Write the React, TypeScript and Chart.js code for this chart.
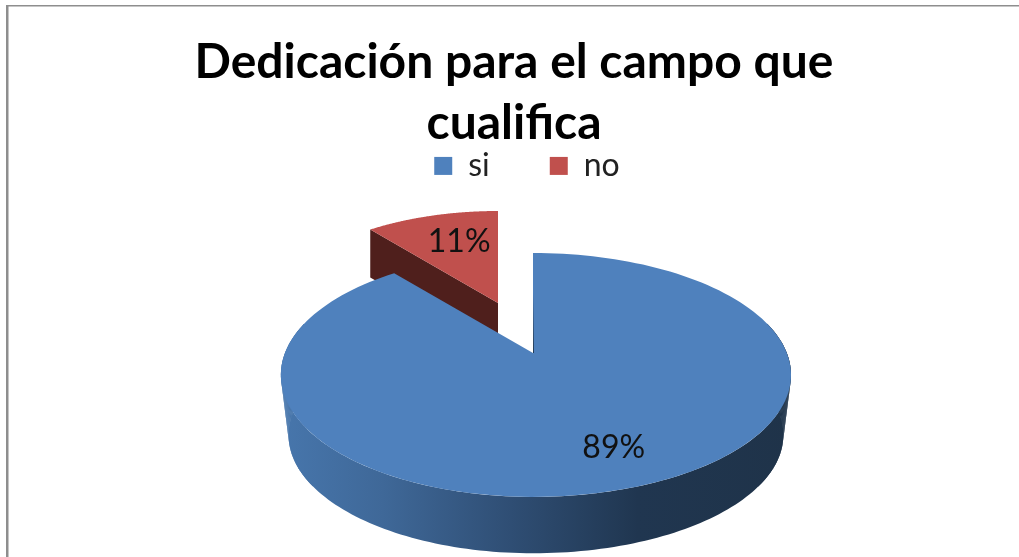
import React, { useEffect, useRef } from "react";
import { Chart, registerables } from "chart.js";

Chart.register(...registerables);

const categories = ["si", "no"];
const percentages = [89, 11];
const faceColors = ["#4f81bd", "#c0504d"];
const titleLines = ["Dedicación para el campo que", "cualifica"];

const FONT = "Lato, Carlito, Calibri, sans-serif";

// Perspective projection of the unit disc onto the page
const tip = { x: 533, y: 353 };
const persp = -0.18;
const radY = 118;
const radXLeft = 248;
const radXRight = 253.8;
// Floor of the pie, relative to the ellipse of its top face
const ellipse = { x: 536, y: 375 };
const floor = { scale: 0.97, drop: 60 };
// The exploded slice
const exploded = { x: 498, y: 303, scale: 0.92, depth: 48 };
const labelSpots = [
  { f: 0.74, dx: 8, dy: 1 },
  { f: 0.58, dx: 2, dy: -7 },
];
const legendShift = 13;

type P = { x: number; y: number };

function project(angle: number, f = 1): P {
  const u = Math.cos(angle) * f;
  const v = Math.sin(angle) * f;
  const d = 1 + persp * v;
  return {
    x: tip.x + ((u < 0 ? radXLeft : radXRight) * u) / d,
    y: tip.y + (radY * v) / d,
  };
}
const toFloor = (p: P): P => ({
  x: ellipse.x + floor.scale * (p.x - ellipse.x),
  y: ellipse.y + floor.drop + floor.scale * (p.y - ellipse.y),
});
const toExploded = (p: P): P => ({
  x: exploded.x + exploded.scale * (p.x - tip.x),
  y: exploded.y + exploded.scale * (p.y - tip.y),
});

function arcPoints(a0: number, a1: number, map: (p: P) => P = (p) => p): P[] {
  const n = 160;
  const pts: P[] = [];
  for (let i = 0; i <= n; i++) pts.push(map(project(a0 + ((a1 - a0) * i) / n)));
  return pts;
}
function fillPoly(ctx: CanvasRenderingContext2D, pts: P[], fill: string | CanvasGradient) {
  ctx.beginPath();
  pts.forEach((p, i) => (i ? ctx.lineTo(p.x, p.y) : ctx.moveTo(p.x, p.y)));
  ctx.closePath();
  ctx.fillStyle = fill;
  ctx.fill();
}

const pie3d = {
  id: "pie3d",
  afterLayout(chart: any) {
    // the legend centres itself between left and right
    chart.legend.left += legendShift * 2;
  },
  beforeDraw(chart: any) {
    const { ctx, width } = chart;
    ctx.save();
    ctx.fillStyle = "#ffffff";
    ctx.fillRect(0, 0, width, chart.height);
    ctx.fillStyle = "#8e8e8e";
    ctx.fillRect(6, 5, width - 6, 1.5);
    ctx.fillRect(6, 5, 2.5, chart.height - 5);
    ctx.restore();
  },
  beforeDatasetsDraw(chart: any) {
    const { ctx } = chart;
    const arcs = chart.getDatasetMeta(0).data;
    const [si, no] = arcs;
    ctx.save();

    // exploded slice: cut face then top
    const rimStart = toExploded(project(no.startAngle));
    const apex = { x: exploded.x, y: exploded.y };
    const down = (p: P): P => ({ x: p.x, y: p.y + exploded.depth });
    fillPoly(ctx, [rimStart, apex, down(apex), down(rimStart)], "#4f1f1c");
    fillPoly(ctx, [apex, ...arcPoints(no.startAngle, no.endAngle, toExploded)], faceColors[1]);

    // main slice: wall then top
    const grad = ctx.createLinearGradient(281, 0, 791, 0);
    grad.addColorStop(0, "#4776ac");
    grad.addColorStop(0.2, "#3f6898");
    grad.addColorStop(0.45, "#2f4e74");
    grad.addColorStop(0.7, "#203650");
    grad.addColorStop(1, "#1f3349");
    const rad = Math.PI / 180;
    const w0 = -15 * rad;
    const w1 = 195 * rad;
    fillPoly(ctx, [...arcPoints(w0, w1), ...arcPoints(w0, w1, toFloor).reverse()], grad);
    // straight flanks joining the two rims at the silhouette
    for (const [a0, a1] of [[-15, 35], [145, 195]]) {
      for (let a = a0; a < a1; a += 1) {
        const t0 = project(a * rad);
        const t1 = project((a + 1) * rad);
        fillPoly(ctx, [t0, t1, toFloor(t1), toFloor(t0)], grad);
      }
    }
    fillPoly(ctx, [tip, ...arcPoints(si.startAngle, si.endAngle)], faceColors[0]);

    // thin shaded edge of the cut
    const lg = ctx.createLinearGradient(0, tip.y - 60, 0, tip.y);
    lg.addColorStop(0, "rgba(31,51,73,0)");
    lg.addColorStop(1, "rgba(31,51,73,0.9)");
    ctx.strokeStyle = lg;
    ctx.lineWidth = 1;
    ctx.beginPath();
    ctx.moveTo(tip.x + 0.5, tip.y - 60);
    ctx.lineTo(tip.x + 0.5, tip.y);
    ctx.stroke();

    // value labels
    const total = percentages.reduce((a, b) => a + b, 0);
    ctx.font = `32px ${FONT}`;
    ctx.fillStyle = "#111111";
    ctx.textAlign = "center";
    ctx.textBaseline = "middle";
    arcs.forEach((arc: any, i: number) => {
      const mid = (arc.startAngle + arc.endAngle) / 2;
      let p = project(mid, labelSpots[i].f);
      if (i === 1) p = toExploded(p);
      ctx.fillText(
        `${Math.round((percentages[i] / total) * 100)}%`,
        p.x + labelSpots[i].dx,
        p.y + labelSpots[i].dy
      );
    });
    ctx.restore();
    return false;
  },
};

export default function App() {
  const ref = useRef<HTMLCanvasElement>(null);
  useEffect(() => {
    const chart = new Chart(ref.current as HTMLCanvasElement, {
      type: "pie",
      data: {
        labels: categories,
        datasets: [{ data: percentages, backgroundColor: faceColors, borderWidth: 0 }],
      },
      options: {
        animation: false,
        responsive: false,
        layout: { padding: { left: 9 } },
        plugins: {
          title: {
            display: true,
            text: titleLines,
            color: "#000000",
            font: { family: FONT, size: 48, weight: "bold", lineHeight: 1.27 },
            padding: { top: 32, bottom: -64 },
          },
          legend: {
            display: true,
            position: "top",
            labels: {
              boxWidth: 18,
              boxHeight: 18,
              padding: 60,
              color: "#222222",
              font: { family: FONT, size: 32 },
            },
          },
          tooltip: { enabled: false },
        },
      },
      plugins: [pie3d],
    } as any);
    return () => chart.destroy();
  }, []);
  return (
    <div style={{ position: "fixed", left: 0, top: 0, width: 1019, height: 557 }}>
      <canvas ref={ref} width={1019} height={557} style={{ display: "block", filter: "blur(0.6px)" }} />
    </div>
  );
}
